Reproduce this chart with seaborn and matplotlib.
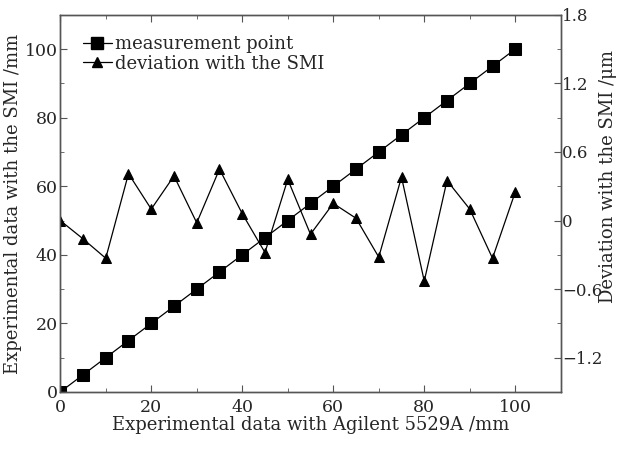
import numpy as np
import pandas as pd
import matplotlib
matplotlib.use("Agg")
import matplotlib.pyplot as plt
from matplotlib.ticker import MultipleLocator
from matplotlib.lines import Line2D
import seaborn as sns

# Daten
agilent_mm = [0, 5, 10, 15, 20, 25, 30, 35, 40, 45, 50,
              55, 60, 65, 70, 75, 80, 85, 90, 95, 100]
smi_mm = [0, 5, 10, 15, 20, 25, 30, 35, 40, 45, 50,
          55, 60, 65, 70, 75, 80, 85, 90, 95, 100]
deviation_um = [0.0, -0.16, -0.33, 0.41, 0.10, 0.39, -0.02, 0.45, 0.06, -0.28, 0.36,
                -0.12, 0.15, 0.02, -0.32, 0.38, -0.53, 0.35, 0.10, -0.33, 0.25]
right_ticks = [-1.2, -0.6, 0, 0.6, 1.2, 1.8]
right_labels = ["\u22121.2", "\u22120.6", "0", "0.6", "1.2", "1.8"]

df = pd.DataFrame({"x": agilent_mm, "smi": smi_mm, "dev": deviation_um})

sns.set_style("ticks")
plt.rcParams["font.family"] = ["DejaVu Serif"]

axis_col = "#555555"
fig, ax = plt.subplots(figsize=(6.21, 4.49), dpi=100)
ax2 = ax.twinx()

sns.lineplot(data=df, x="x", y="smi", marker="s", markersize=8, color="black",
             linewidth=0.9, markeredgecolor="black", ax=ax)
sns.lineplot(data=df, x="x", y="dev", marker="^", markersize=7.5, color="black",
             linewidth=0.9, markeredgecolor="black", ax=ax2)

ax.set_xlim(0, 110)
ax.set_ylim(0, 110)
ax2.set_ylim(-1.5, 1.8)

ax.xaxis.set_major_locator(MultipleLocator(20))
ax.xaxis.set_minor_locator(MultipleLocator(10))
ax.yaxis.set_major_locator(MultipleLocator(20))
ax.yaxis.set_minor_locator(MultipleLocator(10))
ax2.set_yticks(right_ticks)
ax2.set_yticklabels(right_labels)
ax2.yaxis.set_minor_locator(MultipleLocator(0.3))

for a in (ax, ax2):
    a.tick_params(which="both", direction="in", color=axis_col, labelsize=12.5, pad=2)
    a.tick_params(which="major", length=5)
    a.tick_params(which="minor", length=3)
    for s in a.spines.values():
        s.set_color(axis_col)
        s.set_linewidth(1.0)
ax.tick_params(which="both", top=True, right=False)
ax.tick_params(axis="x", pad=5)
ax2.tick_params(axis="y", pad=1, labelsize=12)

ax.set_xlabel("Experimental data with Agilent 5529A /mm", fontsize=13, labelpad=0)
ax.set_ylabel("Experimental data with the SMI /mm", fontsize=13, labelpad=2)
ax2.set_ylabel("Deviation with the SMI /\u03bcm", fontsize=13)
ax2.yaxis.set_label_coords(1.077, 0.57)

handles = [
    Line2D([], [], color="black", marker="s", markersize=8, linewidth=0.9),
    Line2D([], [], color="black", marker="^", markersize=7.5, linewidth=0.9),
]
ax.legend(handles, ["measurement point", "deviation with the SMI"],
          loc="upper left", bbox_to_anchor=(0.02, 0.98), frameon=False,
          fontsize=13, handlelength=1.6, handletextpad=0.2, labelspacing=0.1,
          borderaxespad=0.3)

fig.subplots_adjust(left=0.097, right=0.903, top=0.967, bottom=0.127)
fig.savefig("out.png", dpi=100)
